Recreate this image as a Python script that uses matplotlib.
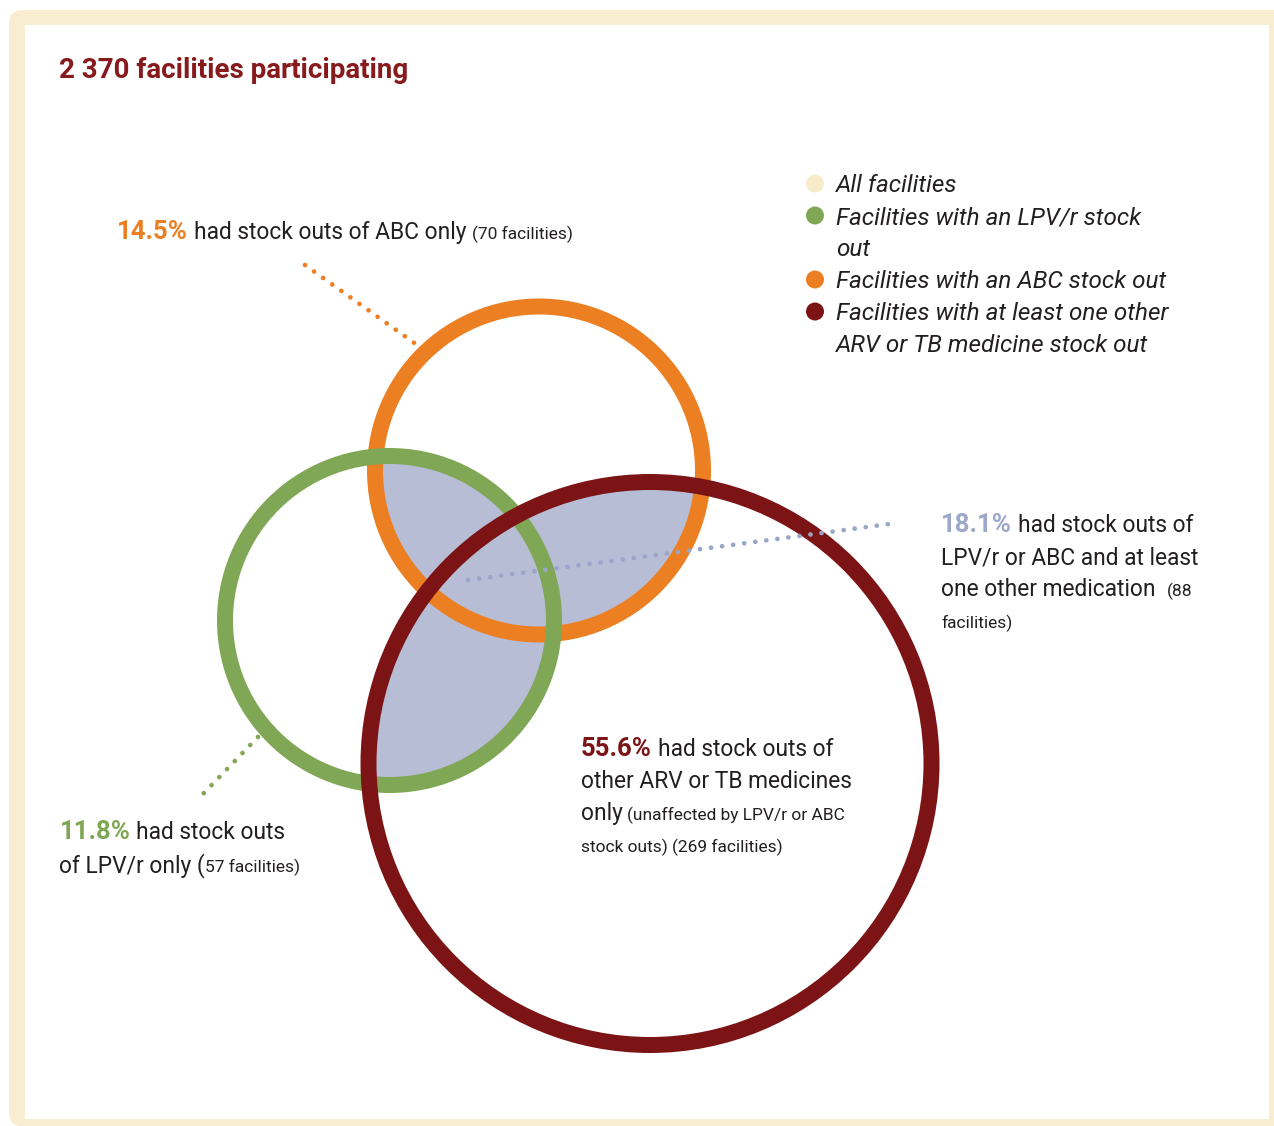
import matplotlib
matplotlib.use("Agg")
import matplotlib.pyplot as plt
from matplotlib.patches import Circle, FancyBboxPatch, Rectangle

# ---------------- data ----------------
total_facilities = "2 370"
legend_labels = ["All facilities",
                 "Facilities with an LPV/r stock\nout",
                 "Facilities with an ABC stock out",
                 "Facilities with at least one other\nARV or TB medicine stock out"]
legend_colors = ["#F8EBCB", "#80A755", "#EC7F22", "#7C1416"]

pct_abc_only = 14.5
pct_lpv_only = 11.8
pct_overlap = 18.1
pct_other_only = 55.6
n_abc_only = 70
n_lpv_only = 57
n_overlap = 88
n_other_only = 269

# ---------------- style ----------------
W, H = 1274, 1126
C_ORANGE = "#EC7F22"
C_GREEN = "#80A755"
C_RED = "#7C1416"
C_LAV = "#B8BDD6"
C_LAVDOT = "#9AA5C8"
C_LAVTXT = "#9DA8C9"
C_TITLE = "#861A1D"
C_TXT = "#231F20"
C_CREAM = "#F8EDD0"
FONT = "Roboto"

plt.rcParams["font.family"] = [FONT, "DejaVu Sans"]

fig = plt.figure(figsize=(W / 100, H / 100), dpi=100)
ax = fig.add_axes([0, 0, 1, 1])
ax.set_xlim(0, W)
ax.set_ylim(H, 0)
ax.axis("off")
renderer = fig.canvas.get_renderer()

# frame
ax.add_patch(FancyBboxPatch((9, 10), 1400, 1116.5, boxstyle="round,pad=0,rounding_size=14",
                            fc=C_CREAM, ec="none", zorder=0))
ax.add_patch(Rectangle((25, 25), 1244, 1094, fc="white", ec="none", zorder=0.5))

# circles (layout geometry)
orange_c, orange_r = (539, 470.5), 164
green_c, green_r = (389.5, 620.5), 164.5
red_c, red_r = (650, 763.5), 281.5
ring_lw = 16 * 0.72

circles = [(orange_c, orange_r, C_ORANGE), (green_c, green_r, C_GREEN), (red_c, red_r, C_RED)]

# shaded overlaps (pairwise intersections)
for i in range(3):
    for j in range(i + 1, 3):
        (ci, ri, _), (cj, rj, _) = circles[i], circles[j]
        clip = Circle(cj, rj, transform=ax.transData)
        p = Circle(ci, ri, fc=C_LAV, ec="none", zorder=1)
        ax.add_patch(p)
        p.set_clip_path(clip)

for k, (c, r, col) in enumerate(circles):
    ax.add_patch(Circle(c, r, fill=False, ec=col, lw=ring_lw, zorder=2 + k))

# dotted leader lines
dot_lw = 3.4
ls = (0, (0.01, 2.35))
ax.plot([305, 420], [265, 347], color=C_ORANGE, lw=dot_lw, ls=ls, dash_capstyle="round", zorder=6)
ax.plot([258, 202], [737, 795], color=C_GREEN, lw=dot_lw, ls=ls, dash_capstyle="round", zorder=6)
ax.plot([468, 897], [580, 523], color=C_LAVDOT, lw=dot_lw, ls=ls, dash_capstyle="round", zorder=6)


# ---------------- text helpers ----------------
def text_w(s, **kw):
    t = ax.text(0, 0, s, **kw)
    w = t.get_window_extent(renderer).width
    t.remove()
    return w


def space_w(**kw):
    return text_w("a a", **kw) - text_w("aa", **kw)


def runs(x, y, parts):
    for s, kw in parts:
        kw = dict(kw)
        kw.setdefault("color", C_TXT)
        if s.startswith(" "):
            x += space_w(**kw) * (len(s) - len(s.lstrip(" ")))
        core = s.strip(" ")
        if core:
            t = ax.text(x, y, core, va="baseline", ha="left", zorder=10, **kw)
            x += t.get_window_extent(renderer).width
        if s.endswith(" ") and core:
            x += space_w(**kw) * (len(s) - len(s.rstrip(" ")))
    return x


PCT = dict(fontsize=18.5, fontweight="bold")
BODY = dict(fontsize=16.4, fontweight="normal")
SMALL = dict(fontsize=12.5, fontweight="normal")

# title
ax.text(59, 78, f"{total_facilities} facilities participating", fontsize=20,
        fontweight="bold", color=C_TITLE, va="baseline", ha="left")

# ABC only
runs(117, 239, [(f"{pct_abc_only:.1f}%", dict(PCT, color=C_ORANGE)),
                (" had stock outs of ABC only ", BODY),
                (f"({n_abc_only} facilities)", SMALL)])

# overlap
runs(941, 532, [(f"{pct_overlap:.1f}%", dict(PCT, color=C_LAVTXT)), (" had stock outs of", BODY)])
runs(941, 564, [("LPV/r or ABC and at least", BODY)])
runs(941, 596, [("one other medication  ", BODY), (f"({n_overlap}", SMALL)])
runs(941, 628, [("facilities)", SMALL)])

# LPV only
runs(60, 839, [(f"{pct_lpv_only:.1f}%", dict(PCT, color=C_GREEN)), (" had stock outs", BODY)])
runs(59, 872, [("of LPV/r only (", BODY), (f"{n_lpv_only} facilities)", SMALL)])

# other only
runs(581, 756, [(f"{pct_other_only:.1f}%", dict(PCT, color=C_RED)), (" had stock outs of", BODY)])
runs(581, 788, [("other ARV or TB medicines", BODY)])
runs(581, 820, [("only", BODY), (" (unaffected by LPV/r or ABC", SMALL)])
runs(581, 852, [(f"stock outs) ({n_other_only} facilities)", SMALL)])

# legend
y = 192
for lab, col in zip(legend_labels, legend_colors):
    lines = lab.split("\n")
    ax.add_patch(Circle((815, y - 8.5), 9, fc=col, ec="none", zorder=10))
    for ln in lines:
        ax.text(836, y, ln, fontsize=17.5, fontstyle="italic", color=C_TXT,
                va="baseline", ha="left", zorder=10)
        y += 32

fig.savefig("out.png", dpi=100)
